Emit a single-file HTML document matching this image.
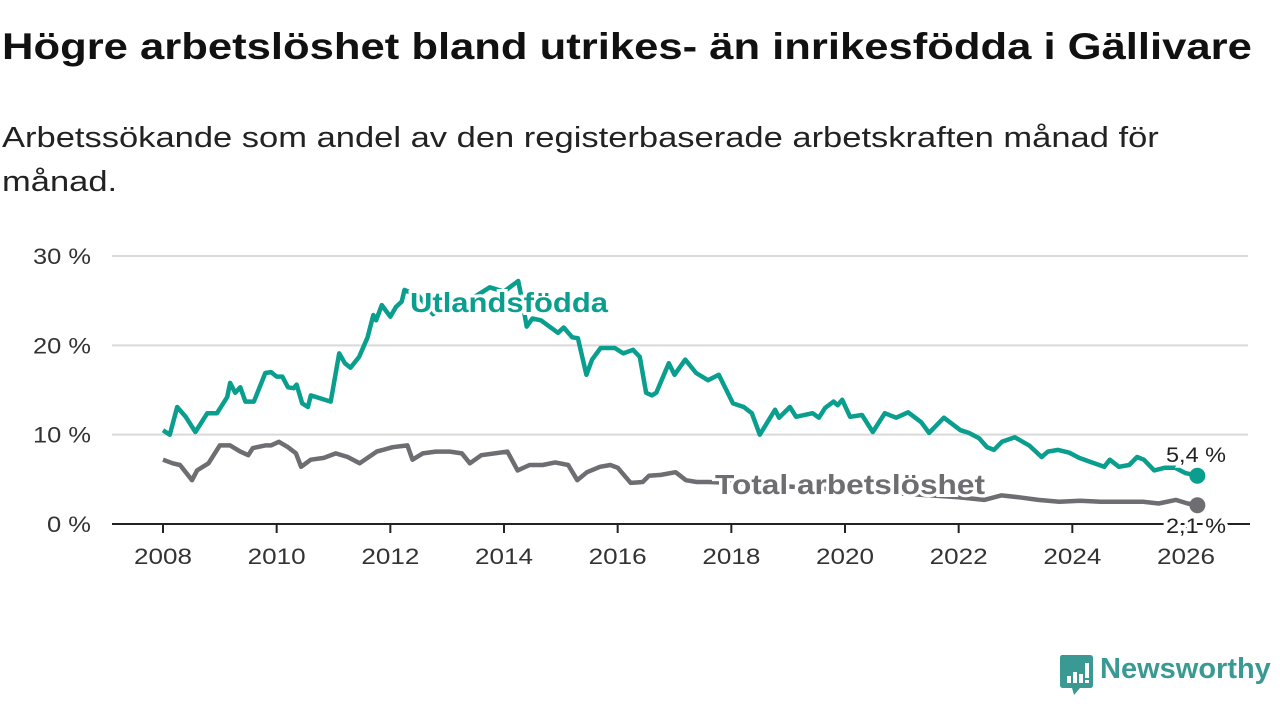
<!DOCTYPE html>
<html><head><meta charset="utf-8">
<style>
body{margin:0;width:1280px;height:720px;background:#fff;overflow:hidden;font-family:"Liberation Sans","DejaVu Sans",sans-serif;color:#111}
h1{position:absolute;left:2px;top:26px;margin:0;font-size:37px;font-weight:bold;white-space:nowrap;transform:scaleX(1.178);transform-origin:0 0}
.sub{position:absolute;left:2px;top:116px;margin:0;font-size:29px;line-height:44px;white-space:nowrap;color:#222;transform:scaleX(1.19);transform-origin:0 0}
svg{position:absolute;left:0;top:0}
</style></head><body>
<h1>Högre arbetslöshet bland utrikes- än inrikesfödda i Gällivare</h1>
<p class="sub">Arbetssökande som andel av den registerbaserade arbetskraften månad för<br>månad.</p>
<svg id="chart" width="1280" height="720"></svg>
<div style="position:absolute;left:1060px;top:655px;">
<svg width="34" height="42" style="position:absolute;left:0;top:0"><path d="M2 0H30Q33 0 33 3V30Q33 33 30 33H20L14 40L12 33H3Q0 33 0 30V3Q0 0 2 0Z" fill="#3a9a93"/><rect x="7" y="21" width="4" height="7" fill="#fff"/><rect x="13" y="17" width="4" height="11" fill="#fff"/><rect x="19" y="19" width="4" height="9" fill="#fff"/><rect x="25" y="8" width="4" height="15" fill="#fff"/><rect x="25" y="25" width="4" height="3" fill="#fff"/></svg>
<span style="position:absolute;left:40px;top:-2px;font-size:29px;color:#3a9a93;font-weight:bold;white-space:nowrap">Newsworthy</span>
</div>
<script>
const yTicks=[0,10,20,30];
const xTicks=[2008,2010,2012,2014,2016,2018,2020,2022,2024,2026];
const foreignYears=[2008.0,2008.12,2008.25,2008.4,2008.57,2008.78,2008.95,2009.13,2009.18,2009.27,2009.36,2009.45,2009.6,2009.8,2009.9,2010.0,2010.1,2010.2,2010.3,2010.35,2010.45,2010.55,2010.6,2010.95,2011.1,2011.2,2011.3,2011.45,2011.6,2011.7,2011.75,2011.85,2012.0,2012.1,2012.2,2012.25,2012.5,2012.75,2013.0,2013.5,2013.75,2014.0,2014.1,2014.25,2014.32,2014.4,2014.5,2014.65,2014.95,2015.05,2015.2,2015.3,2015.45,2015.55,2015.7,2015.95,2016.1,2016.27,2016.39,2016.5,2016.6,2016.68,2016.9,2017.0,2017.19,2017.38,2017.59,2017.78,2018.03,2018.22,2018.36,2018.5,2018.77,2018.84,2019.03,2019.14,2019.43,2019.54,2019.65,2019.8,2019.87,2019.95,2020.09,2020.3,2020.49,2020.7,2020.9,2021.11,2021.34,2021.48,2021.74,2022.03,2022.18,2022.36,2022.5,2022.62,2022.76,2022.99,2023.24,2023.46,2023.57,2023.75,2023.94,2024.12,2024.34,2024.56,2024.66,2024.82,2025.0,2025.14,2025.26,2025.44,2025.63,2025.81,2025.99,2026.2];
const foreignValues=[10.5,10.0,13.1,12.0,10.3,12.4,12.4,14.2,15.8,14.7,15.3,13.7,13.7,16.9,17.0,16.5,16.5,15.3,15.2,15.6,13.5,13.1,14.4,13.7,19.1,18.0,17.5,18.7,20.9,23.4,22.8,24.5,23.2,24.3,24.9,26.2,25.5,23.5,24.5,25.5,26.5,26.0,26.5,27.2,25.0,22.1,23.0,22.8,21.4,22.0,20.9,20.8,16.7,18.4,19.7,19.7,19.1,19.5,18.7,14.7,14.4,14.7,18.0,16.7,18.4,16.9,16.1,16.7,13.5,13.1,12.4,10.0,12.8,11.9,13.1,12.0,12.4,11.9,13.0,13.7,13.3,13.9,12.0,12.2,10.3,12.4,11.9,12.5,11.4,10.2,11.9,10.5,10.2,9.6,8.6,8.3,9.2,9.7,8.8,7.5,8.1,8.3,8.0,7.4,6.9,6.4,7.2,6.4,6.6,7.5,7.2,6.0,6.3,6.3,5.7,5.4];
const totalYears=[2008.0,2008.17,2008.3,2008.51,2008.6,2008.8,2009.0,2009.18,2009.36,2009.5,2009.58,2009.8,2009.9,2010.04,2010.2,2010.34,2010.43,2010.6,2010.83,2011.04,2011.25,2011.46,2011.76,2012.04,2012.3,2012.39,2012.57,2012.8,2013.05,2013.26,2013.4,2013.6,2014.06,2014.24,2014.45,2014.68,2014.9,2015.13,2015.29,2015.46,2015.69,2015.87,2016.0,2016.23,2016.44,2016.55,2016.76,2017.02,2017.2,2017.39,2017.6,2018.0,2018.5,2019.0,2019.5,2020.0,2020.5,2021.0,2021.5,2022.0,2022.45,2022.75,2023.05,2023.4,2023.77,2024.14,2024.5,2024.87,2025.24,2025.52,2025.82,2026.03,2026.2];
const totalValues=[7.2,6.8,6.6,4.9,6.0,6.8,8.8,8.8,8.1,7.7,8.5,8.8,8.8,9.2,8.6,7.9,6.4,7.2,7.4,7.9,7.5,6.8,8.1,8.6,8.8,7.2,7.9,8.1,8.1,7.9,6.8,7.7,8.1,6.0,6.6,6.6,6.9,6.6,4.9,5.8,6.4,6.6,6.3,4.6,4.7,5.4,5.5,5.8,4.9,4.7,4.7,4.6,4.4,4.2,4.0,3.8,3.6,3.4,3.2,3.0,2.7,3.2,3.0,2.7,2.5,2.6,2.5,2.5,2.5,2.3,2.7,2.3,2.1];
const svg=document.getElementById('chart');
const NS='http://www.w3.org/2000/svg';
const X0=112,X1=1250;
function xs(y){return 163+(y-2008)*(1186-163)/18;}
function ys(v){return 524-v*(524-256)/30;}
function mk(t,a,p){const e=document.createElementNS(NS,t);for(const k in a)e.setAttribute(k,a[k]);(p||svg).appendChild(e);return e;}
yTicks.forEach(v=>{
  if(v>0){const g=mk('line',{x1:X0,x2:1248,y1:ys(v),y2:ys(v),stroke:'#d9d9d9','stroke-width':2});
  
  }
  const t=mk('text',{x:91,y:ys(v)+8,'text-anchor':'end','font-size':22,fill:'#333',textLength:String(v).length*14+30,lengthAdjust:'spacingAndGlyphs'});
  t.textContent=v+' %';
  
  
});
xTicks.forEach(yr=>{
  const l=mk('line',{x1:xs(yr),x2:xs(yr),y1:524,y2:533,stroke:'#222','stroke-width':2});
  
  
  const t=mk('text',{x:xs(yr),y:564,'text-anchor':'middle','font-size':22,fill:'#333',textLength:58,lengthAdjust:'spacingAndGlyphs'});
  t.textContent=yr;
  
  
});
function line(yrs,vals,col,name){
  const d=yrs.map((y,i)=>(i?'L':'M')+xs(y).toFixed(1)+' '+ys(vals[i]).toFixed(1)).join(' ');
  const p=mk('path',{d:d,fill:'none',stroke:col,'stroke-width':4.5,'stroke-linejoin':'round'});
  
  
  const n=yrs.length-1;
  const c=mk('circle',{cx:xs(yrs[n]),cy:ys(vals[n]),r:8,fill:col});
  
  
}
line(totalYears,totalValues,'#6e6d72','total-line');
line(foreignYears,foreignValues,'#0a9e8e','foreign-line');
const ax=mk('line',{x1:X0,x2:X1,y1:524,y2:524,stroke:'#222','stroke-width':2});


function lab(x,y,txt,col,size,w,anchor,name,len){
  const a={x:x,y:y,'font-size':size,'font-weight':w,fill:col,stroke:'#fff','stroke-width':6,'paint-order':'stroke','text-anchor':anchor};
  if(len){a.textLength=len;a.lengthAdjust='spacingAndGlyphs';}
  const t=mk('text',a);
  t.textContent=txt;
  
  
}
lab(410,312,'Utlandsfödda','#0a9e8e',28,'bold','start','foreign-series-label',198);
lab(715,494,'Total arbetslöshet','#6e6d72',28,'bold','start','total-series-label',270);
const fl=foreignValues[foreignValues.length-1], tl=totalValues[totalValues.length-1];
lab(1196,ys(fl)-14,String(fl).replace('.',',')+' %','#222',21,'normal','middle','foreign-end-value',60);
lab(1196,ys(tl)+28,String(tl).replace('.',',')+' %','#222',21,'normal','middle','total-end-value',60);
</script>
</body></html>
